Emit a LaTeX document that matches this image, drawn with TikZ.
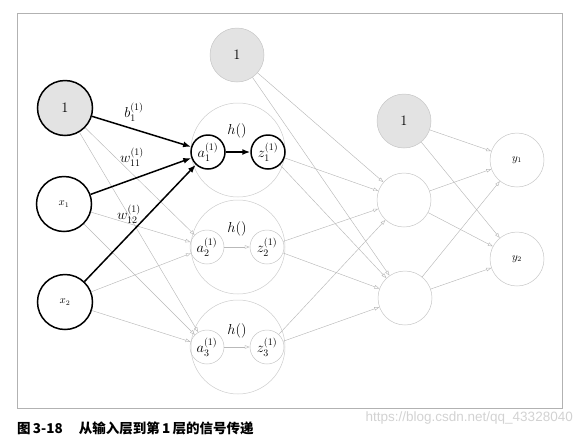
\documentclass[tikz,border=0pt]{standalone}
\usepackage{fontspec}
\newfontfamily\cjk{Noto Sans CJK SC}
\newfontfamily\wmfont{Liberation Sans}
\usetikzlibrary{arrows.meta}
\tikzset{
  big/.style={font=\fontsize{14}{16}\selectfont},
  sml/.style={font=\fontsize{10.5}{12}\selectfont},
  inbox/.style={circle, draw=black, line width=1.5pt, minimum size=55pt, inner sep=0pt},
  ghost/.style={circle, draw=gray!45, line width=0.5pt, minimum size=54pt, inner sep=0pt},
  biasfill/.style={fill=gray!22},
  bigcirc/.style={circle, draw=gray!40, line width=0.5pt, minimum size=94pt, inner sep=0pt},
  smallthick/.style={circle, draw=black, line width=1.5pt, minimum size=34pt, inner sep=0pt},
  smallghost/.style={circle, draw=gray!45, line width=0.5pt, minimum size=34pt, inner sep=0pt},
  heavy/.style={draw=black, line width=1.5pt, -{Latex[length=8pt,width=6pt]}},
  light/.style={draw=gray!55, line width=0.45pt, -{Triangle[open,length=5pt,width=3.5pt]}},
  lbl/.style={inner sep=1pt, big}
}
\begin{document}
\begin{tikzpicture}[x=1pt,y=-1pt]
\useasboundingbox (0,0) rectangle (583,437);
\draw[gray!60, line width=0.7pt] (17,13) rectangle (562,408);

% input layer
\node[inbox, biasfill, big] (b0) at (65,108) {$1$};
\node[inbox, sml] (x1) at (64,204) {$x_1$};
\node[inbox, sml] (x2) at (65,302) {$x_2$};

% layer 1
\node[ghost, biasfill, big] (b1) at (237,55) {$1$};
\node[bigcirc] (c1) at (238,150) {};
\node[bigcirc] (c2) at (238,247) {};
\node[bigcirc] (c3) at (238,347) {};
\node[smallthick, big] (a1) at (208,152) {$a_1^{(1)}$};
\node[smallthick, big] (z1) at (268,152) {$z_1^{(1)}$};
\node[smallghost, big] (a2) at (207,247) {$a_2^{(1)}$};
\node[smallghost, big] (z2) at (267,247) {$z_2^{(1)}$};
\node[smallghost, big] (a3) at (207,347) {$a_3^{(1)}$};
\node[smallghost, big] (z3) at (267,347) {$z_3^{(1)}$};
\node[lbl] (h1) at (237,131) {$h()$};
\node[lbl] (h2) at (237,229) {$h()$};
\node[lbl] (h3) at (237,331) {$h()$};

% layer 2
\node[ghost, biasfill, big] (b2) at (404,121) {$1$};
\node[ghost] (n1) at (404,200) {};
\node[ghost] (n2) at (405,298) {};

% output
\node[ghost, sml] (y1) at (517,160) {$y_1$};
\node[ghost, sml] (y2) at (517,259) {$y_2$};

% light edges input -> layer1
\foreach \s in {b0,x1,x2}{
  \foreach \t in {a2,a3}{
    \draw[light] (\s) -- (\t);
  }
}
\draw[light] (a2) -- (z2);
\draw[light] (a3) -- (z3);

% layer1 -> layer2
\foreach \s in {b1,z1,z2,z3}{
  \foreach \t in {n1,n2}{
    \draw[light] (\s) -- (\t);
  }
}
% layer2 -> output
\foreach \s in {b2,n1,n2}{
  \foreach \t in {y1,y2}{
    \draw[light] (\s) -- (\t);
  }
}

% heavy edges
\draw[heavy] (b0) -- (a1);
\draw[heavy] (x1) -- (a1);
\draw[heavy] (x2) -- (a1);
\draw[heavy] (a1) -- (z1);

% weight labels
\node[lbl] (lb) at (134,112) {$b_1^{(1)}$};
\node[lbl] (lw11) at (132,157) {$w_{11}^{(1)}$};
\node[lbl] (lw12) at (129,214) {$w_{12}^{(1)}$};

% caption and watermark
\node[anchor=west, inner sep=0pt, font=\cjk\bfseries\fontsize{13.5}{15}\selectfont] (cap) at (17,428) {图\,3-18\hspace{1.2em}从输入层到第\,1\,层的信号传递};
\node[anchor=east, inner sep=0pt, text=gray!35, font=\wmfont\fontsize{13.5}{15}\selectfont] (wm) at (573,418) {https://blog.csdn.net/qq\_43328040};
\end{tikzpicture}
\end{document}
